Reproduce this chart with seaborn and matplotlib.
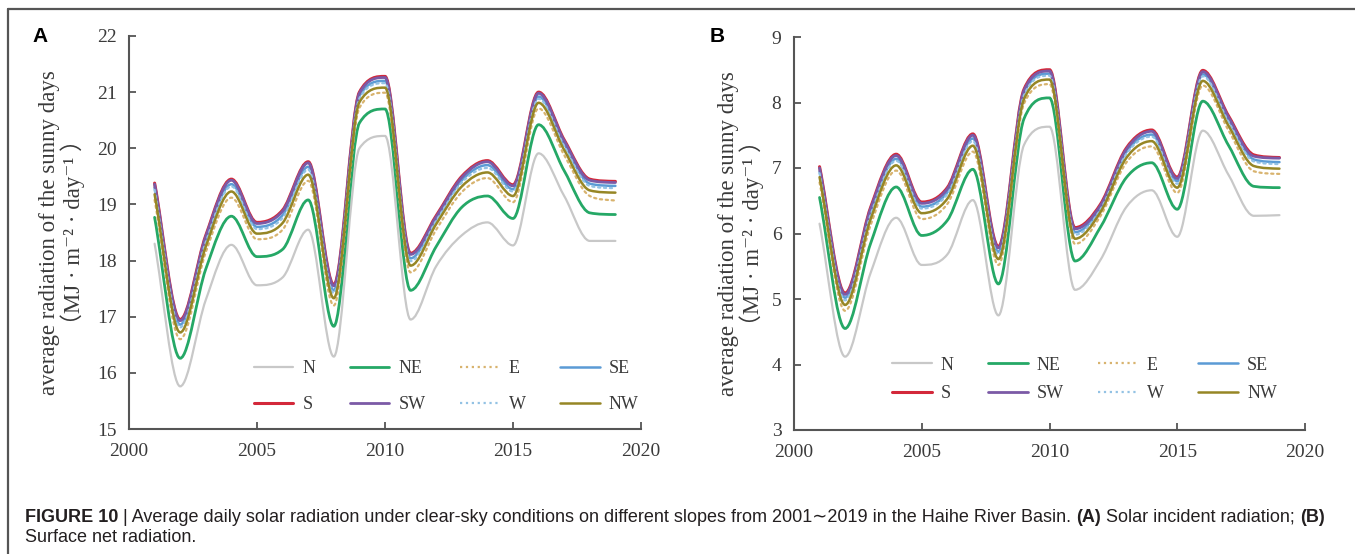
import numpy as np
import pandas as pd
import matplotlib
matplotlib.use("Agg")
import matplotlib.pyplot as plt
import seaborn as sns
from matplotlib.path import Path
from matplotlib.patches import PathPatch
from matplotlib.lines import Line2D

# ---------------- data ----------------
years = list(range(2001, 2020))
directions = ["N", "NE", "E", "SE", "S", "SW", "W", "NW"]

# Panel A: solar incident radiation
A_N  = [18.30, 15.76, 17.30, 18.28, 17.56, 17.70, 18.55, 16.29, 20.00, 20.22, 16.95, 17.90, 18.45, 18.68, 18.27, 19.91, 19.15, 18.35, 18.35]
A_NE = [18.77, 16.26, 17.85, 18.79, 18.07, 18.20, 19.08, 16.83, 20.45, 20.70, 17.47, 18.25, 18.95, 19.15, 18.75, 20.42, 19.60, 18.85, 18.82]
A_E  = [19.08, 16.60, 18.15, 19.12, 18.38, 18.55, 19.42, 17.20, 20.72, 20.99, 17.79, 18.55, 19.22, 19.47, 19.04, 20.71, 19.88, 19.15, 19.07]
A_SE = [19.30, 16.86, 18.37, 19.36, 18.60, 18.81, 19.67, 17.47, 20.93, 21.20, 18.04, 18.74, 19.43, 19.70, 19.27, 20.92, 20.08, 19.37, 19.33]
A_S  = [19.38, 16.95, 18.45, 19.45, 18.68, 18.90, 19.76, 17.57, 21.00, 21.28, 18.13, 18.80, 19.50, 19.78, 19.35, 21.00, 20.15, 19.45, 19.41]
A_SW = [19.36, 16.93, 18.43, 19.43, 18.66, 18.88, 19.74, 17.55, 20.98, 21.26, 18.11, 18.78, 19.48, 19.76, 19.33, 20.98, 20.13, 19.43, 19.39]
A_W  = [19.26, 16.81, 18.33, 19.32, 18.56, 18.76, 19.62, 17.42, 20.89, 21.16, 17.99, 18.71, 19.39, 19.65, 19.23, 20.88, 20.04, 19.33, 19.29]
A_NW = [19.18, 16.72, 18.25, 19.23, 18.48, 18.67, 19.53, 17.33, 20.82, 21.08, 17.91, 18.65, 19.32, 19.57, 19.15, 20.81, 19.97, 19.25, 19.21]

# Panel B: surface net radiation
B_N  = [6.15, 4.12, 5.40, 6.24, 5.52, 5.68, 6.51, 4.75, 7.35, 7.63, 5.14, 5.60, 6.40, 6.66, 5.95, 7.57, 6.90, 6.27, 6.28]
B_NE = [6.55, 4.55, 5.85, 6.71, 5.97, 6.20, 6.98, 5.23, 7.75, 8.07, 5.58, 6.10, 6.85, 7.08, 6.37, 8.02, 7.35, 6.72, 6.70]
B_E  = [6.78, 4.82, 6.13, 6.96, 6.22, 6.45, 7.25, 5.52, 7.98, 8.28, 5.84, 6.27, 7.08, 7.33, 6.62, 8.26, 7.58, 6.95, 6.91]
B_SE = [6.95, 5.02, 6.33, 7.14, 6.41, 6.63, 7.45, 5.72, 8.14, 8.44, 6.02, 6.39, 7.24, 7.51, 6.80, 8.43, 7.74, 7.13, 7.09]
B_S  = [7.02, 5.09, 6.40, 7.21, 6.48, 6.70, 7.52, 5.80, 8.20, 8.50, 6.09, 6.45, 7.30, 7.58, 6.86, 8.49, 7.80, 7.20, 7.16]
B_SW = [7.00, 5.07, 6.38, 7.19, 6.46, 6.68, 7.50, 5.78, 8.18, 8.48, 6.07, 6.43, 7.28, 7.56, 6.84, 8.47, 7.78, 7.18, 7.15]
B_W  = [6.92, 4.98, 6.29, 7.11, 6.38, 6.60, 7.41, 5.68, 8.11, 8.41, 5.98, 6.37, 7.21, 7.48, 6.76, 8.40, 7.71, 7.10, 7.06]
B_NW = [6.86, 4.91, 6.22, 7.04, 6.31, 6.53, 7.34, 5.61, 8.05, 8.35, 5.92, 6.33, 7.15, 7.41, 6.70, 8.33, 7.65, 7.03, 6.99]

A_series = [A_N, A_NE, A_E, A_SE, A_S, A_SW, A_W, A_NW]
B_series = [B_N, B_NE, B_E, B_SE, B_S, B_SW, B_W, B_NW]

x_ticks = [2000, 2005, 2010, 2015, 2020]
A_yticks = [15, 16, 17, 18, 19, 20, 21, 22]
B_yticks = [3, 4, 5, 6, 7, 8, 9]

ylabel = "average radiation of the sunny days\n（MJ · m⁻² · day⁻¹ ）"
caption_parts = [
    ("FIGURE 10", "bold"),
    (" | Average daily solar radiation under clear-sky conditions on different slopes from 2001∼2019 in the Haihe River Basin. ", "normal"),
    ("(A)", "bold"),
    (" Solar incident radiation; ", "normal"),
    ("(B)", "bold"),
]
caption_line2 = "Surface net radiation."

# ---------------- style ----------------
colors = {"N": "#c8c8c8", "NE": "#25a866", "E": "#d8b36e", "SE": "#5b9bd5",
          "S": "#d3283a", "SW": "#7b5aa6", "W": "#93c2e4", "NW": "#968625"}
styles = {"N": "-", "NE": "-", "E": ":", "SE": "-", "S": "-", "SW": "-", "W": ":", "NW": "-"}
widths = {"N": 1.6, "NE": 2.0, "E": 1.6, "SE": 1.8, "S": 2.2, "SW": 2.0, "W": 1.6, "NW": 1.8}

sns.set_theme(style="white")
serif = ["Liberation Serif", "DejaVu Serif", "Noto Sans CJK SC"]
sans = ["Liberation Sans", "DejaVu Sans"]
plt.rcParams["font.family"] = serif

W, H = 1355, 554
fig = plt.figure(figsize=(W / 100, H / 100), dpi=100)
fig.patch.set_facecolor("white")


def px_axes(l, r, t, b):
    return fig.add_axes([l / W, 1 - b / H, (r - l) / W, (b - t) / H])


def smooth_path(xs, ys):
    """Fritsch-Carlson monotone cubic Bezier through the data points (rendering only)."""
    xs = np.asarray(xs, float)
    ys = np.asarray(ys, float)
    n = len(xs)
    h = np.diff(xs)
    d = np.diff(ys) / h
    m = np.empty(n)
    m[0], m[-1] = d[0], d[-1]
    m[1:-1] = (d[:-1] + d[1:]) / 2.0
    for k in range(n - 1):
        if d[k] == 0:
            m[k] = m[k + 1] = 0.0
    for k in range(1, n - 1):
        if d[k - 1] * d[k] < 0:
            m[k] = 0.0
    for k in range(n - 1):
        if d[k] == 0:
            continue
        a = m[k] / d[k]
        b = m[k + 1] / d[k]
        s = a * a + b * b
        if s > 9:
            t = 3 / np.sqrt(s)
            m[k] = t * a * d[k]
            m[k + 1] = t * b * d[k]
    verts = [(xs[0], ys[0])]
    codes = [Path.MOVETO]
    for i in range(n - 1):
        c1 = (xs[i] + h[i] / 3, ys[i] + m[i] * h[i] / 3)
        c2 = (xs[i + 1] - h[i] / 3, ys[i + 1] - m[i + 1] * h[i] / 3)
        verts += [c1, c2, (xs[i + 1], ys[i + 1])]
        codes += [Path.CURVE4] * 3
    return Path(verts, codes)


def draw_panel(ax, series, ylim, yticks, letter, letter_px, label_x, leg_anchor, leg_spacing):
    df = pd.DataFrame({
        "year": np.tile(years, len(directions)),
        "value": np.concatenate(series),
        "direction": np.repeat(directions, len(years)),
    })
    sns.lineplot(data=df, x="year", y="value", hue="direction", hue_order=directions,
                 palette=colors, ax=ax, legend=False, errorbar=None, sort=False)
    lines = list(ax.lines)
    for d, ln in zip(directions, lines):
        xs, ys = ln.get_xdata(), ln.get_ydata()
        patch = PathPatch(smooth_path(xs, ys), fill=False, edgecolor=colors[d],
                          linewidth=widths[d], linestyle=styles[d], capstyle="round")
        ax.add_patch(patch)
        ln.remove()

    ax.set_xlim(2000, 2020)
    ax.set_ylim(*ylim)
    ax.set_xticks(x_ticks)
    ax.set_yticks(yticks)
    ax.set_xlabel("")
    ax.set_ylabel(ylabel, fontsize=16.5, color="#3a3a3a", linespacing=1.05, family=serif)
    ax.yaxis.set_label_coords(label_x, 0.5)
    for s in ["top", "right"]:
        ax.spines[s].set_visible(False)
    for s in ["left", "bottom"]:
        ax.spines[s].set_color("#555555")
        ax.spines[s].set_linewidth(1.5)
    ax.tick_params(axis="both", direction="in", length=5, width=1.3, color="#555555",
                   labelsize=14, labelcolor="#3a3a3a")
    ax.tick_params(axis="y", pad=9)
    ax.tick_params(axis="x", pad=10)
    ax.tick_params(left=True, bottom=True)
    for t in ax.get_xticklabels() + ax.get_yticklabels():
        t.set_family(serif)

    # legend, row-major order N NE E SE / S SW W NW
    handles = {d: Line2D([], [], color=colors[d], lw=widths[d], ls=styles[d]) for d in directions}
    order = ["N", "S", "NE", "SW", "E", "W", "SE", "NW"]
    leg = ax.legend([handles[d] for d in order], order, ncol=4, loc="lower right",
                    bbox_to_anchor=leg_anchor, frameon=False, borderpad=0, borderaxespad=0,
                    handlelength=2.2, handletextpad=0.5, columnspacing=1.9,
                    labelspacing=leg_spacing, prop={"family": serif, "size": 13})
    for t in leg.get_texts():
        t.set_color("#3a3a3a")

    fig.text(letter_px[0] / W, 1 - letter_px[1] / H, letter, family=sans, fontweight="bold",
             fontsize=15, ha="center", va="center", color="black")


axA = px_axes(129, 641, 36, 429)
axB = px_axes(794, 1305, 37, 430)
draw_panel(axA, A_series, (15, 22), A_yticks, "A", (40, 37), -0.085, (0.995, 0.04), 1.05)
draw_panel(axB, B_series, (3, 9), B_yticks, "B", (717, 37), -0.058, (0.945, 0.07), 0.65)

# frame lines
fig.add_artist(Line2D([8 / W, 1.0], [1 - 9 / H, 1 - 9 / H], transform=fig.transFigure,
                      color="#555555", lw=1.6))
fig.add_artist(Line2D([8 / W, 8 / W], [0.0, 1 - 9 / H], transform=fig.transFigure,
                      color="#555555", lw=1.6))

# caption
fig.canvas.draw()
renderer = fig.canvas.get_renderer()
x = 25 / W
y1 = 1 - 517 / H
for txt, wt in caption_parts:
    t = fig.text(x, y1, txt, family=sans, fontweight=wt, fontsize=13, ha="left",
                 va="center", color="#231f20")
    bb = t.get_window_extent(renderer=renderer)
    x = bb.x1 / W
fig.text(25 / W, 1 - 537 / H, caption_line2, family=sans, fontsize=13, ha="left",
         va="center", color="#231f20")

fig.savefig("out.png", dpi=100, facecolor="white")
